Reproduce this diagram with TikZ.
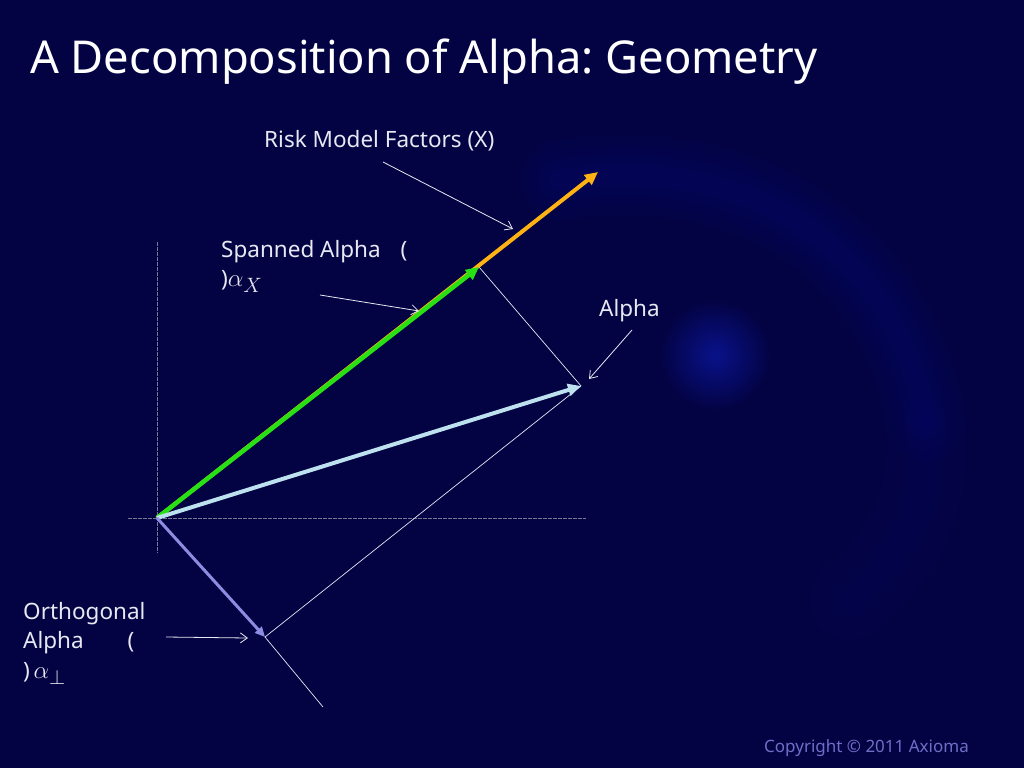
\documentclass[tikz,border=0pt]{standalone}
\usepackage{fontspec}
\setmainfont{Noto Sans}
\usetikzlibrary{arrows.meta}
\frenchspacing
\definecolor{bgc}{RGB}{3,3,68}
\definecolor{glow}{RGB}{10,20,150}
\definecolor{orangec}{RGB}{255,178,20}
\definecolor{greenc}{RGB}{40,225,20}
\definecolor{lblue}{RGB}{190,225,240}
\definecolor{purp}{RGB}{140,140,225}
\definecolor{axisc}{RGB}{120,120,150}
\definecolor{txtc}{RGB}{232,232,242}
\definecolor{copyc}{RGB}{110,110,200}
\tikzset{
  lbl/.style={text=txtc, font=\fontsize{22.5}{29.5}\selectfont, inner sep=0pt, align=left},
  vec/.style={line width=4pt, -{Triangle[length=13pt,width=12pt]}},
  pointer/.style={draw=txtc, line width=0.8pt, -{Straight Barb[length=7pt,width=10pt]}},
  guide/.style={draw=txtc!85!lblue, line width=0.7pt},
  axisline/.style={draw=axisc, line width=0.5pt, dash pattern=on 4pt off 1pt}
}
\newcommand{\bigsym}[1]{{\fontsize{28}{29.5}\selectfont$#1$}}
\begin{document}
\begin{tikzpicture}[x=1pt,y=-1pt]
\useasboundingbox (0,0) rectangle (1024,768);
\fill[bgc] (0,0) rectangle (1024,768);
% background glow
\begin{scope}
\clip (0,0) rectangle (1024,768);
\foreach \w/\o in {80/0.04,60/0.05,40/0.06,22/0.06}{
  \draw[glow, line width=\w pt, opacity=\o, line cap=round] (560,180) .. controls (760,150) and (900,260) .. (925,420);
  \draw[glow, line width=\w pt, opacity=\o*0.5, line cap=round] (925,420) .. controls (935,500) and (900,560) .. (850,600);
}
\shade[inner color=glow!85!bgc, outer color=bgc] (715,355) circle (55);
\end{scope}
% named points
\coordinate (O) at (157,518);
\coordinate (X) at (598,172);
\coordinate (S) at (479,267);
\coordinate (A) at (581,386);
\coordinate (P) at (265,637);
\coordinate (E) at (323,707);
% axes
\coordinate (vt) at (157,242);
\coordinate (vb) at (157,553);
\coordinate (hl) at (128,518);
\coordinate (hr) at (586,518);
\draw[axisline] (vt) -- (vb);
\draw[axisline] (hl) -- (hr);
% guide lines
\draw[guide] (S) -- (A);
\draw[guide] (A) -- (P);
\draw[guide] (P) -- (E);
% vectors
\draw[vec, orangec] (O) -- (X);
\draw[vec, greenc, line width=4.5pt] (O) -- (S);
\draw[vec, lblue] (O) -- (A);
\draw[vec, purp, line width=3pt, -{Triangle[length=10pt,width=9pt]}] (O) -- (P);
% title
\node[anchor=base west, inner sep=0pt, text=white, font=\fontsize{45.3}{54}\selectfont] (title) at (30,74) {A Decomposition of Alpha: Geometry};
% labels
\node[lbl, anchor=base west] (risk) at (264,147) {Risk Model Factors (X)};
\node[lbl, anchor=base west] (alpha) at (599,316) {Alpha};
\node[lbl, anchor=north west] (span) at (221,240) {Spanned Alpha\hspace{20pt}(\\)\bigsym{\alpha_X}};
\node[lbl, anchor=north west] (orth) at (23,602) {Orthogonal\\Alpha\hspace{44pt}(\\)\,\bigsym{\alpha_\perp}};
\node[anchor=base west, inner sep=0pt, text=copyc, font=\fontsize{17}{20}\selectfont] (copy) at (764,752) {Copyright © 2011 Axioma};
% pointers
\coordinate (r1) at (383,162);
\coordinate (r2) at (513,229);
\coordinate (s1) at (320,295);
\coordinate (s2) at (419,311);
\coordinate (a1) at (632,330);
\coordinate (a2) at (589,379);
\coordinate (o1) at (166,637);
\coordinate (o2) at (248,638);
\draw[pointer] (r1) -- (r2);
\draw[pointer] (s1) -- (s2);
\draw[pointer] (a1) -- (a2);
\draw[pointer] (o1) -- (o2);
\end{tikzpicture}
\end{document}
